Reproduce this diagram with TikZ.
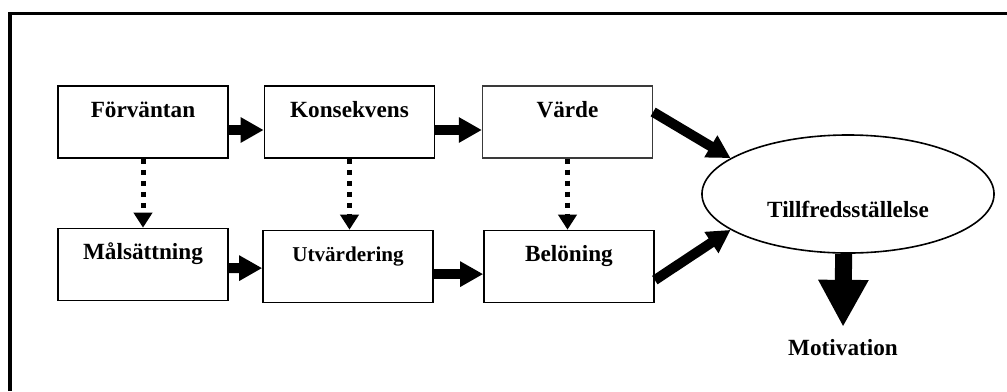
\documentclass[tikz,border=0pt]{standalone}
\usepackage{fontspec}
\setmainfont{Liberation Serif}
\usetikzlibrary{arrows.meta, shapes.geometric}
\definecolor{InkBlack}{HTML}{000000}
\definecolor{EdgeGray}{HTML}{3A3A3A}
\tikzset{
  factor/.style={draw=InkBlack, line width=0.04cm, minimum width=4.25cm, minimum height=1.8cm, inner sep=0pt, text height=0.35cm, text depth=0.6cm, font=\fontsize{16.5}{20}\selectfont\bfseries},
  outcome/.style={draw=InkBlack, ellipse, line width=0.04cm, minimum width=7.3cm, minimum height=2.95cm, inner sep=0pt, text height=1.25cm, text depth=0.1cm, font=\fontsize{16.5}{20}\selectfont\bfseries},
  result/.style={font=\fontsize{16.5}{20}\selectfont\bfseries},
  flowarrow/.style={-{Triangle[length=0.575cm, width=0.6cm]}, line width=0.25cm, draw=InkBlack},
  dotarrow/.style={-{Triangle[length=0.375cm, width=0.45cm]}, line width=0.125cm, dash pattern=on 0.125cm off 0.15cm, draw=InkBlack},
  bigarrow/.style={-{Triangle[length=1.175cm, width=1.175cm]}, line width=0.425cm, draw=InkBlack}
}
\begin{document}
\begin{tikzpicture}[x=0.025cm, y=-0.025cm]
\useasboundingbox (0,0) rectangle (1007,391);
\draw[line width=0.075cm, InkBlack] (10,391) -- (10,13) -- (1007,13);
\node[factor] (fv) at (143,122) {Förväntan};
\node[factor] (ks) at (349.5,122) {Konsekvens};
\node[factor, draw=EdgeGray, line width=0.03cm] (vd) at (567.5,122) {Värde};
\node[factor] (ms) at (143,264.5) {Målsättning};
\node[factor, font=\fontsize{15}{18}\selectfont\bfseries] (uv) at (348,266.5) {Utvärdering};
\node[factor] (bl) at (569,266.5) {Belöning};
\node[outcome] (tf) at (848,194) {Tillfredsställelse};
\node[result] (mv) at (843,348) {Motivation};
\draw[flowarrow] ([yshift=-0.2cm]fv.east) -- ([yshift=-0.2cm]ks.west);
\draw[flowarrow] ([yshift=-0.2cm]ks.east) -- ([yshift=-0.2cm]vd.west);
\draw[flowarrow] ([yshift=-0.09cm]ms.east) -- ([yshift=-0.04cm]uv.west);
\draw[flowarrow] ([yshift=-0.19cm]uv.east) -- ([yshift=-0.19cm]bl.west);
\draw[flowarrow] ([yshift=0.25cm]vd.east) -- (tf.163);
\draw[flowarrow] ([yshift=-0.34cm]bl.east) -- (tf.197);
\draw[dotarrow] (fv.south) -- (fv.south |- ms.north);
\draw[dotarrow] (ks.south) -- (ks.south |- uv.north);
\draw[dotarrow] (vd.south) -- (vd.south |- bl.north);
\draw[bigarrow, shorten >=0.2cm] ([xshift=-0.11cm]tf.south) -- (mv.north);
\end{tikzpicture}
\end{document}
